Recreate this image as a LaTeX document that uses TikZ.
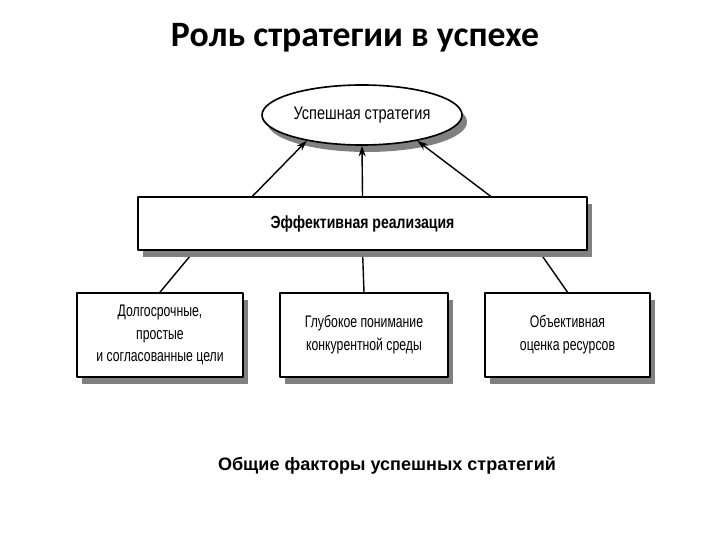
\documentclass[tikz,border=0pt]{standalone}
\usepackage{fontspec}
\setmainfont{Liberation Sans}
\newfontfamily\boxfont[FakeStretch=0.73]{Liberation Sans}
\newfontfamily\goalfont[FakeStretch=0.8]{Liberation Sans}
\newfontfamily\titlefont{Carlito}
\usetikzlibrary{shapes.geometric,shadows,arrows.meta,calc,backgrounds}
\begin{document}
\begin{tikzpicture}[x=0.03cm,y=-0.03cm,line join=round,
  shad/.style={drop shadow={shadow xshift=.15cm,shadow yshift=-.21cm,fill=black!50,opacity=1}},
  box/.style={draw,line width=1.4pt,fill=white,shad,inner sep=0pt,align=center,
    font=\boxfont\fontsize{14.3}{19.5}\selectfont},
  arr/.style={line width=1.2pt,-{Stealth[length=9pt,width=6pt]}},
  lnk/.style={line width=1.2pt}]
  \useasboundingbox (0,0) rectangle (720,540);
  \node (title) at (355,38) {\titlefont\bfseries\fontsize{30.5}{33}\selectfont Роль стратегии в успехе};
  \node[box,ellipse,minimum width=6cm,minimum height=1.8cm,font=\goalfont\fontsize{15.5}{18}\selectfont] (goal) at (362,115) {Успешная стратегия};
  \node[box,minimum width=13.47cm,minimum height=1.59cm,font=\goalfont\bfseries\fontsize{15}{18}\selectfont] (impl) at (362.5,223.5) {Эффективная реализация};
  \node[box,minimum width=4.98cm,minimum height=2.52cm] (f1) at (160,335) {Долгосрочные,\\простые\\и согласованные цели};
  \node[box,minimum width=5.04cm,minimum height=2.52cm] (f2) at (364,335) {Глубокое понимание\\конкурентной среды};
  \node[box,minimum width=4.95cm,minimum height=2.52cm] (f3) at (567.5,335) {Объективная\\оценка ресурсов};
  \node (caption) at (387,466) {\bfseries\fontsize{15.4}{18}\selectfont Общие факторы успешных стратегий};
  % upward arrows to the goal
  \draw[arr] ($(impl.north west)!0.256!(impl.north east)$) -- (goal.205);
  \draw[arr] (impl.north) -- (goal.south);
  \draw[arr] ($(impl.north west)!0.784!(impl.north east)$) -- (goal.335);
  % links to the factors, under the shadow
  \begin{scope}[on background layer]
    \draw[lnk] ($(impl.south west)!0.127!(impl.south east)$) -- (f1.north);
    \draw[lnk] (impl.south) -- (f2.north);
    \draw[lnk] ($(impl.south west)!0.891!(impl.south east)$) -- (f3.north);
  \end{scope}
\end{tikzpicture}
\end{document}
